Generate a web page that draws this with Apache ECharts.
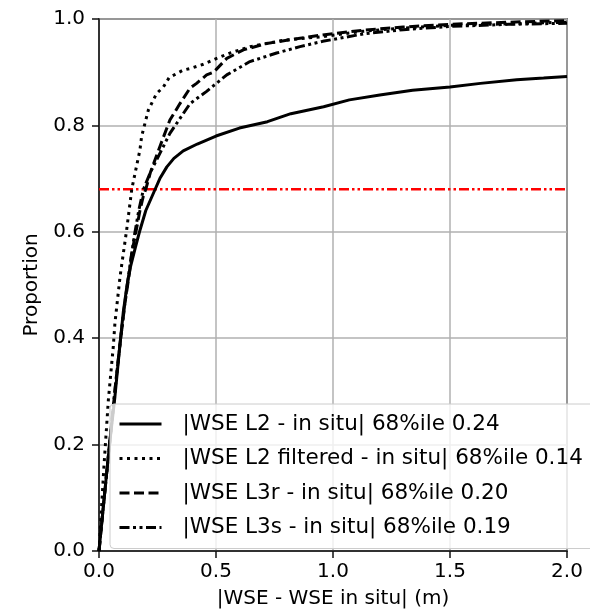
<!DOCTYPE html>
<html>
<head>
<meta charset="utf-8">
<script src="https://cdn.jsdelivr.net/npm/echarts@6/dist/echarts.min.js"></script>
<style>
html,body{margin:0;padding:0;background:#fff;}
#chart{width:590px;height:614px;}
</style>
</head>
<body>
<div id="chart"></div>
<script>
// Series names
const seriesNames = [
  '|WSE L2 - in situ| 68%ile 0.24',
  '|WSE L2 filtered - in situ| 68%ile 0.14',
  '|WSE L3r - in situ| 68%ile 0.20',
  '|WSE L3s - in situ| 68%ile 0.19'
];

// |WSE L2 - in situ| CDF
const l2X = [0, 0.02, 0.045, 0.068, 0.09, 0.104, 0.12, 0.132, 0.155, 0.175, 0.2, 0.24, 0.26, 0.29, 0.32, 0.36, 0.42, 0.5, 0.6, 0.72, 0.82, 0.96, 1.07, 1.2, 1.34, 1.5, 1.63, 1.785, 1.9, 2.0];
const l2Y = [0, 0.09, 0.2, 0.29, 0.39, 0.45, 0.5, 0.53, 0.57, 0.603, 0.64, 0.68, 0.7, 0.722, 0.738, 0.752, 0.765, 0.78, 0.795, 0.807, 0.822, 0.835, 0.848, 0.857, 0.866, 0.872, 0.879, 0.886, 0.889, 0.892];

// |WSE L2 filtered - in situ| CDF
const l2fX = [0, 0.021, 0.04, 0.061, 0.068, 0.09, 0.118, 0.14, 0.147, 0.175, 0.182, 0.211, 0.246, 0.275, 0.3, 0.36, 0.39, 0.446, 0.503, 0.56, 0.645, 0.788, 0.958, 1.13, 1.3, 1.5, 1.75, 2.0];
const l2fY = [0, 0.158, 0.284, 0.384, 0.428, 0.516, 0.603, 0.68, 0.695, 0.754, 0.779, 0.829, 0.86, 0.872, 0.89, 0.904, 0.907, 0.915, 0.926, 0.936, 0.948, 0.96, 0.967, 0.977, 0.983, 0.988, 0.991, 0.994];

// |WSE L3r - in situ| CDF
const l3rX = [0, 0.02, 0.045, 0.07, 0.09, 0.111, 0.132, 0.14, 0.16, 0.175, 0.19, 0.2, 0.22, 0.26, 0.303, 0.346, 0.389, 0.417, 0.46, 0.49, 0.546, 0.617, 0.717, 0.859, 0.956, 1.13, 1.3, 1.5, 1.75, 2.0];
const l3rY = [0, 0.09, 0.2, 0.31, 0.39, 0.466, 0.528, 0.56, 0.605, 0.64, 0.668, 0.68, 0.712, 0.76, 0.81, 0.841, 0.87, 0.879, 0.895, 0.9, 0.926, 0.942, 0.954, 0.964, 0.97, 0.979, 0.985, 0.99, 0.994, 0.997];

// |WSE L3s - in situ| CDF
const l3sX = [0, 0.02, 0.045, 0.07, 0.09, 0.11, 0.13, 0.15, 0.17, 0.19, 0.22, 0.246, 0.303, 0.389, 0.46, 0.546, 0.645, 0.759, 0.859, 0.956, 1.13, 1.3, 1.5, 1.75, 2.0];
const l3sY = [0, 0.09, 0.2, 0.31, 0.39, 0.465, 0.53, 0.59, 0.64, 0.68, 0.712, 0.735, 0.785, 0.841, 0.864, 0.895, 0.92, 0.936, 0.948, 0.958, 0.972, 0.98, 0.986, 0.99, 0.992];

// 68th percentile reference line
const refLevel = 0.68;
const refX = [0, 2.0];

// Axis ticks
const xTicks = [0, 0.5, 1.0, 1.5, 2.0];
const yTicks = [0, 0.2, 0.4, 0.6, 0.8, 1.0];

function pairs(xs, ys) { return xs.map((x, i) => [x, ys[i]]); }

const FONT = 'DejaVu Sans';
const chart = echarts.init(document.getElementById('chart'), null, {renderer: 'canvas'});

const lineBase = { type: 'line', symbol: 'none', smooth: false, animation: false, z: 3 };

chart.setOption({
  animation: false,
  backgroundColor: '#fff',
  grid: {
    left: 99, right: 23, top: 19, bottom: 63,
    show: true, borderColor: '#111', borderWidth: 1.5, backgroundColor: 'transparent'
  },
  xAxis: {
    type: 'value', min: xTicks[0], max: xTicks[xTicks.length - 1], interval: 0.5,
    name: '|WSE - WSE in situ| (m)', nameLocation: 'middle', nameGap: 38,
    nameTextStyle: { fontFamily: FONT, fontSize: 20, color: '#000' },
    axisLine: { show: true, onZero: false, lineStyle: { color: '#111', width: 1.5 } },
    axisTick: { show: true, inside: false, length: 7, lineStyle: { color: '#111', width: 1.5 } },
    axisLabel: { fontFamily: FONT, fontSize: 20, color: '#000', margin: 11, formatter: v => v.toFixed(1) },
    splitLine: { show: true, lineStyle: { color: '#b0b0b0', width: 1.5 } }
  },
  yAxis: {
    type: 'value', min: yTicks[0], max: yTicks[yTicks.length - 1], interval: 0.2,
    name: 'Proportion', nameLocation: 'middle', nameGap: 54, nameRotate: 90,
    nameTextStyle: { fontFamily: FONT, fontSize: 20, color: '#000' },
    axisLine: { show: true, onZero: false, lineStyle: { color: '#111', width: 1.5 } },
    axisTick: { show: true, inside: false, length: 7, lineStyle: { color: '#111', width: 1.5 } },
    axisLabel: { fontFamily: FONT, fontSize: 20, color: '#000', margin: 14, formatter: v => v.toFixed(1) },
    splitLine: { show: true, lineStyle: { color: '#b0b0b0', width: 1.5 } }
  },
  legend: {
    data: seriesNames,
    orient: 'vertical',
    left: 110, top: 404,
    padding: [9, 40, 10, 8],
    itemGap: 12.5,
    itemWidth: 42, itemHeight: 20,
    itemStyle: { opacity: 0 },
    lineStyle: { width: 3 },
    backgroundColor: 'rgba(255,255,255,0.8)',
    borderColor: '#cccccc', borderWidth: 1, borderRadius: 4,
    textStyle: { fontFamily: FONT, fontSize: 21.5, color: '#000', padding: [0, 0, 0, 16], lineHeight: 20 },
    selectedMode: false
  },
  series: [
    Object.assign({}, lineBase, {
      name: 'ref', data: pairs(refX, refX.map(() => refLevel)), z: 2,
      lineStyle: { color: '#ff0000', width: 2.5, type: [10, 3, 2.5, 3, 2.5, 3] }
    }),
    Object.assign({}, lineBase, {
      name: seriesNames[0], data: pairs(l2X, l2Y),
      lineStyle: { color: '#000', width: 3, type: 'solid' }, itemStyle: { color: '#000' }
    }),
    Object.assign({}, lineBase, {
      name: seriesNames[1], data: pairs(l2fX, l2fY),
      lineStyle: { color: '#000', width: 3, type: [3, 4.5] }, itemStyle: { color: '#000' }
    }),
    Object.assign({}, lineBase, {
      name: seriesNames[2], data: pairs(l3rX, l3rY),
      lineStyle: { color: '#000', width: 3, type: [10, 4.5] }, itemStyle: { color: '#000' }
    }),
    Object.assign({}, lineBase, {
      name: seriesNames[3], data: pairs(l3sX, l3sY),
      lineStyle: { color: '#000', width: 3, type: [10, 3.5, 3, 3.5, 3, 3.5] }, itemStyle: { color: '#000' }
    })
  ]
});
</script>
</body>
</html>
